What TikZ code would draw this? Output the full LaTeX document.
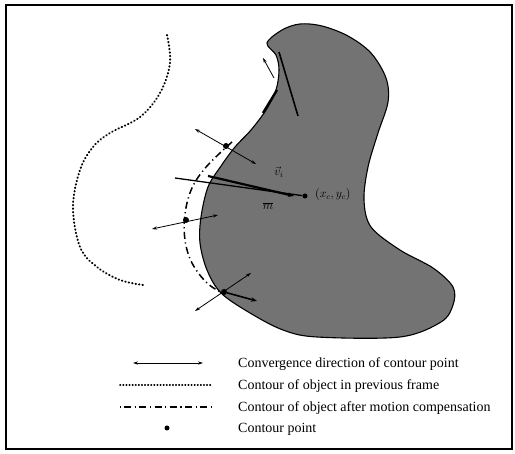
\documentclass[tikz,border=0pt]{standalone}
\usepackage{fontspec}
\setmainfont{Liberation Serif}
\usetikzlibrary{arrows.meta}
\begin{document}
\begin{tikzpicture}[x=1pt,y=-1pt,
  cpt/.style={circle,fill=black,inner sep=0pt,minimum size=6pt},
  conv/.style={{Stealth[length=5pt,width=3.2pt]}-{Stealth[length=5pt,width=3.2pt]},line width=0.8pt},
  prevc/.style={line width=2pt,line cap=round,dash pattern=on 0.5pt off 3pt},
  compc/.style={line width=1.5pt,dash pattern=on 7pt off 3.5pt on 1.2pt off 3.5pt},
  legtxt/.style={anchor=west,font=\fontsize{14}{16}\selectfont,inner sep=0pt},
  lbl/.style={font=\fontsize{12}{13}\selectfont\bfseries,inner sep=0pt}]
\useasboundingbox (0,0) rectangle (515,454);
\draw[line width=2.4pt] (6,5) rectangle (512,449);
% object
\draw[fill=black!55,line width=1.1pt] plot[smooth cycle,tension=0.55] coordinates {
 (267,43) (282,30) (300,24) (322,26) (348,36) (371,53) (386,78) (388,102)
 (378,133) (368,167) (364,200) (371,227) (400,250) (433,268) (453,287)
 (453,305) (441,322) (400,337) (317,337) (283,330) (250,313) (221,293)
 (207,270) (200,243) (201,217) (208,187) (221,166) (235,147) (251,130)
 (266,110) (276,90) (279,70) (276,55)};
% dark inner strokes near notch
\draw[line width=1.6pt] (279,52) -- (298,116);
\draw[line width=2.4pt] (277,90) -- (263,113);
% previous frame contour
\draw[prevc] plot[smooth,tension=0.6] coordinates {
 (167,35) (170,63) (160,93) (140,117) (110,133) (93,147) (80,170)
 (73,207) (80,247) (97,267) (120,280) (143,285)};
% compensated contour
\draw[compc] plot[smooth,tension=0.6] coordinates {
 (232,142) (207,166) (192,188) (185,214) (185,240) (192,263) (207,283) (224,294)};
% contour points
\node[cpt] (p1) at (226,146) {};
\node[cpt] (p2) at (186,220) {};
\node[cpt] (p3) at (224,292) {};
\coordinate (p1o) at (195,129);
\coordinate (p1i) at (256,164);
\coordinate (p2o) at (152,229);
\coordinate (p2i) at (218,215);
\coordinate (p3o) at (195,311);
\coordinate (p3i) at (251,273);
\coordinate (p3r) at (257,301);
\coordinate (t1) at (274,78);
\coordinate (t2) at (263,58);
\draw[conv] (p1o) -- (p1i);
\draw[conv] (p2o) -- (p2i);
\draw[conv] (p3o) -- (p3i);
\draw[-{Stealth[length=6pt,width=4.5pt]},line width=1.6pt] (p3) -- (p3r);
\draw[-{Stealth[length=5pt,width=3.2pt]},line width=0.8pt] (t1) -- (t2);
% centroid and lines
\node[cpt,minimum size=5pt] (c) at (305,196) {};
\coordinate (la) at (175,178);
\coordinate (lb) at (208,176);
\coordinate (lbe) at (294,196);
\draw[line width=1.3pt] (la) -- (c);
\draw[line width=2.2pt,-{Stealth[length=6pt,width=4.5pt]}] (lb) -- (lbe);
\node[lbl] (vi) at (279,172) {$\vec{v}_i$};
\node[lbl,anchor=west] (xy) at (315,195) {$(x_c,y_c)$};
\node[lbl] (m) at (268,206) {$\overline{m}$};
% legend
\coordinate (l1a) at (133,363); \coordinate (l1b) at (203,363);
\coordinate (l2a) at (120,385); \coordinate (l2b) at (213,385);
\coordinate (l3a) at (118,407); \coordinate (l3b) at (213,407);
\draw[conv,line width=0.6pt] (l1a) -- (l1b);
\draw[prevc,line width=1.6pt,dash pattern=on 0.5pt off 2.6pt] (l2a) -- (l2b);
\draw[compc,line width=1.2pt,dash phase=9pt] (l3a) -- (l3b);
\node[cpt,minimum size=5pt] (l4) at (167,428) {};
\node[legtxt] (t1l) at (238,364) {Convergence direction of contour point};
\node[legtxt] (t2l) at (238,386) {Contour of object in previous frame};
\node[legtxt] (t3l) at (238,408) {Contour of object after motion compensation};
\node[legtxt] (t4l) at (238,429) {Contour point};
\end{tikzpicture}
\end{document}
